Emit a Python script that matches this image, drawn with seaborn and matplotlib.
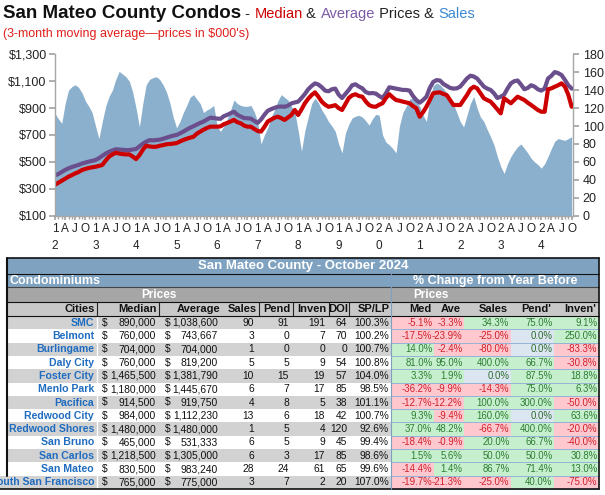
import numpy as np
import pandas as pd
import matplotlib
matplotlib.use('Agg')
import matplotlib.pyplot as plt
import seaborn as sns
from matplotlib.patches import Rectangle

# ---------------- data ----------------
average = [400, 410, 425, 440, 452, 462, 470, 478, 488, 495, 502, 508,
           514, 528, 545, 562, 575, 585, 594, 592, 590, 588, 588, 592,
           596, 615, 635, 650, 662, 660, 663, 665, 672, 680, 688, 695,
           700, 712, 725, 740, 754, 765, 778, 790, 800, 815, 829, 826,
           822, 820, 840, 850, 862, 873, 850, 838, 826, 824, 822, 805,
           790, 815, 850, 880, 892, 902, 910, 912, 910, 918, 935, 942,
           948, 975, 1005, 1040, 1065, 1084, 1075, 1055, 1030, 1025, 1040, 1045,
           1000, 975, 1005, 1035, 1070, 1077, 1060, 1047, 1020, 1010, 1012, 1008,
           990, 975, 1010, 1055, 1050, 1045, 1040, 1035, 1035, 1030, 990, 960,
           940, 960, 985, 1050, 1095, 1108, 1105, 1080, 1065, 1050, 1045, 1047,
           1060, 1090, 1120, 1141, 1135, 1120, 1090, 1060, 1045, 1035, 1010, 975,
           985, 1000, 1045, 1084, 1100, 1105, 1075, 1040, 1050, 1070, 1060, 1040,
           1030, 1045, 1120, 1140, 1168, 1160, 1146, 1110, 1070, 1045]
median = [330, 345, 360, 375, 390, 402, 415, 425, 440, 448, 455, 460,
          464, 470, 477, 510, 539, 555, 568, 562, 558, 556, 556, 540,
          521, 550, 590, 620, 615, 612, 613, 620, 625, 631, 633, 636,
          640, 652, 663, 672, 680, 687, 710, 725, 740, 752, 762, 762,
          762, 764, 780, 790, 800, 812, 795, 787, 770, 762, 762, 745,
          730, 725, 760, 800, 815, 828, 836, 825, 812, 830, 849, 886,
          849, 890, 936, 970, 997, 1017, 985, 948, 925, 910, 915, 922,
          900, 886, 930, 975, 995, 1003, 990, 985, 950, 923, 912, 910,
          925, 936, 975, 1003, 980, 960, 955, 948, 942, 936, 915, 899,
          836, 870, 910, 960, 1010, 1015, 1017, 1005, 997, 960, 923, 923,
          923, 960, 997, 1040, 1059, 1047, 1010, 973, 960, 948, 920, 890,
          861, 973, 955, 936, 960, 985, 972, 960, 940, 923, 905, 886,
          873, 873, 1040, 1047, 1059, 1070, 1084, 1060, 1000, 910]
sales = [114, 108, 103, 125, 140, 144, 146, 143, 137, 128, 122, 115,
         100, 86, 105, 122, 133, 140, 152, 161, 158, 155, 150, 138,
         120, 99, 125, 146, 152, 154, 155, 152, 146, 138, 126, 110,
         98, 105, 115, 123, 132, 135, 130, 125, 115, 118, 120, 123,
         100, 94, 100, 108, 118, 129, 125, 123, 122, 122, 123, 116,
         105, 80, 90, 98, 110, 118, 128, 135, 132, 129, 122, 116,
         95, 72, 95, 110, 125, 131, 126, 118, 112, 105, 100, 94,
         80, 70, 92, 102, 109, 111, 112, 110, 106, 101, 108, 113,
         112, 90, 82, 79, 75, 70, 100, 115, 122, 130, 131, 127,
         122, 112, 105, 130, 145, 148, 146, 142, 137, 130, 124, 115,
         105, 99, 112, 125, 133, 120, 110, 105, 96, 88, 79, 66,
         55, 47, 58, 66, 72, 77, 80, 75, 70, 64, 60, 57,
         53, 58, 66, 75, 83, 86, 85, 84, 86, 88]

price_ticks = [100, 300, 500, 700, 900, 1100, 1300]
price_labels = ['$100', '$300', '$500', '$700', '$900', '$1,100', '$1,300']
sales_ticks = [0, 20, 40, 60, 80, 100, 120, 140, 160, 180]
quarter_letters = ['1', 'A', 'J', 'O']

cities = ['SMC', 'Belmont', 'Burlingame', 'Daly City', 'Foster City', 'Menlo Park',
          'Pacifica', 'Redwood City', 'Redwood Shores', 'San Bruno', 'San Carlos',
          'San Mateo', 'South San Francisco']
median_price = [890000, 760000, 704000, 760000, 1465500, 1180000, 914500, 984000,
                1480000, 465000, 1218500, 830500, 765000]
average_price = [1038600, 743667, 704000, 819200, 1381790, 1445670, 919750, 1112230,
                 1480000, 531333, 1305000, 983240, 775000]
sales_n = [90, 3, 1, 5, 10, 6, 4, 13, 1, 6, 6, 28, 3]
pend_n = [91, 0, 0, 5, 15, 7, 8, 6, 5, 5, 3, 24, 7]
inven_n = [191, 7, 0, 9, 19, 17, 5, 18, 4, 9, 17, 61, 2]
doi_n = [64, 70, 0, 54, 57, 85, 38, 42, 120, 45, 85, 65, 20]
splp = [100.3, 100.2, 100.7, 100.8, 104.0, 98.5, 101.1, 100.7, 92.6, 99.4, 98.6, 99.6, 107.0]
chg_med = [-5.1, -17.5, 14.0, 81.0, 3.3, -36.2, -12.7, 9.3, 37.0, -18.4, 1.5, -14.4, -19.7]
chg_ave = [-3.3, -23.9, -2.4, 95.0, 1.9, -9.9, -12.2, -9.4, 48.2, -0.9, 5.6, 1.4, -21.3]
chg_sales = [34.3, -25.0, -80.0, 400.0, 0.0, -14.3, 100.0, 160.0, -66.7, 20.0, 50.0, 86.7, -25.0]
chg_pend = [75.0, 0.0, 0.0, 66.7, 87.5, 75.0, 300.0, 0.0, 400.0, 66.7, 50.0, 71.4, 40.0]
chg_inven = [9.1, 250.0, -83.3, -30.8, 18.8, 6.3, -50.0, 63.6, -20.0, -40.0, 30.8, 13.0, -75.0]

# ---------------- style ----------------
sns.set_theme(style='white')
plt.rcParams['font.family'] = ['Liberation Sans', 'DejaVu Sans']

W, H = 605, 495
fig = plt.figure(figsize=(W / 100, H / 100), dpi=100)
fig.patch.set_facecolor('white')

def fx(px):
    return px / W

def fy(py):
    return 1 - py / H

# ---------------- chart ----------------
L, R, T, B = 55, 573, 54.3, 215.7
ax = fig.add_axes([fx(L), fy(B), fx(R - L), (B - T) / H])
ax2 = ax.twinx()
ax.set_zorder(3)
ax2.set_zorder(2)
ax.patch.set_visible(False)

n = len(sales)
df = pd.DataFrame({'m': np.arange(n), 'median': median, 'average': average, 'sales': sales})

ax2.fill_between(df['m'], df['sales'], color='#8BB0CD', lw=0)
ax2.set_ylim(0, 180)
sns.lineplot(data=df, x='m', y='average', ax=ax, color='#6A4F8C', lw=3.0)
sns.lineplot(data=df, x='m', y='median', ax=ax, color='#CC0000', lw=3.0)
ax.set_ylim(100, 1300)
ax.set_xlim(0, n - 1 + 0.4)
ax.set_xlabel('')
ax.set_ylabel('')
ax2.set_ylabel('')

ax.set_yticks(price_ticks)
ax.set_yticklabels(price_labels, fontsize=9, color='#222222')
ax2.set_yticks(sales_ticks)
ax2.set_yticklabels([str(v) for v in sales_ticks], fontsize=9, color='#222222')

qpos = list(range(0, n, 3))
qlab = []
for i in qpos:
    q = (i % 12) // 3
    if q == 0:
        yy = 12 + i // 12
        qlab.append(f'{yy // 10}\n{yy % 10}')
    else:
        qlab.append(quarter_letters[q])
ax.set_xticks(qpos)
ax.set_xticklabels(qlab, fontsize=8.5, color='#222222', linespacing=1.55)
ax.set_xticks(range(n), minor=True)

for a in (ax, ax2):
    for s in a.spines.values():
        s.set_visible(False)
ax.spines['left'].set_visible(True)
ax.spines['bottom'].set_visible(True)
ax2.spines['right'].set_visible(True)
for s in (ax.spines['left'], ax.spines['bottom'], ax2.spines['right']):
    s.set_color('#A6A6A6')
    s.set_linewidth(1.0)
ax.tick_params(axis='y', which='major', left=True, length=4, color='#A6A6A6', pad=2)
ax.tick_params(axis='x', which='major', bottom=True, length=3, color='#A6A6A6', pad=2)
ax.tick_params(axis='x', which='minor', bottom=True, length=2, color='#A6A6A6')
ax2.tick_params(axis='y', right=True, length=4, color='#A6A6A6', pad=3)
ax.grid(False)
ax2.grid(False)

# ---------------- title ----------------
fig.canvas.draw()
renderer = fig.canvas.get_renderer()
t = fig.text(fx(3), fy(13), 'San Mateo County Condos', fontsize=13.5, weight='bold',
             color='#111111', va='center', ha='left')
pieces = [(' - ', '#222222'), ('Median', '#CC0000'), (' & ', '#222222'),
          ('Average', '#7B5AA6'), (' Prices & ', '#222222'), ('Sales', '#3C8AD0')]
bb = t.get_window_extent(renderer)
xcur = bb.x1
for txt, col in pieces:
    tt = fig.text(xcur / (fig.dpi * fig.get_figwidth()), fy(14), txt, fontsize=10.5,
                  color=col, va='center', ha='left')
    xcur = tt.get_window_extent(renderer).x1
fig.text(fx(3), fy(34), "(3-month moving average\u2014prices in $000's)", fontsize=9,
         color='#E0201B', va='center', ha='left')

# ---------------- table ----------------
tax = fig.add_axes([0, 0, 1, 1])
tax.set_xlim(0, W)
tax.set_ylim(H, 0)
tax.axis('off')
tax.set_zorder(5)

X0, X1, XS = 7, 599, 391
BLUE = '#7FA2C0'
GRAY = '#A6A6A6'
LGRAY = '#D2D2D2'
HDR = '#C8C8C8'
FS = 7.4
FSP = 6.9

def rect(x0, y0, x1, y1, fc, ec='none', lw=0):
    tax.add_patch(Rectangle((x0, y0), x1 - x0, y1 - y0, facecolor=fc, edgecolor=ec, lw=lw))

def cell_text(x, y, s, **kw):
    kw.setdefault('fontsize', FS)
    kw.setdefault('va', 'center')
    kw.setdefault('color', '#111111')
    tax.text(x, y, s, **kw)

rect(X0, 258, X1, 274, BLUE)
rect(X0, 274, X1, 287, BLUE)
rect(X0, 287, X1, 302, GRAY)
rect(X0, 302, X1, 316, HDR)
tax.text(303, 266, 'San Mateo County - October 2024', color='white', weight='bold',
         fontsize=9.5, ha='center', va='center')
tax.text(10, 281, 'Condominiums', color='white', weight='bold', fontsize=9, ha='left', va='center')
tax.text(495, 281, '% Change from Year Before', color='white', weight='bold', fontsize=9,
         ha='center', va='center')
tax.text(159, 295, 'Prices', color='white', weight='bold', fontsize=8.5, ha='center', va='center')
tax.text(431, 295, 'Prices', color='white', weight='bold', fontsize=8.5, ha='center', va='center')

left_heads = [('Cities', 95), ('Median', 157), ('Average', 220), ('Sales', 257), ('Pend', 291),
              ('Inven', 327), ('DOI', 348), ('SP/LP', 390)]
for h, xr in left_heads:
    tax.text(xr, 309.5, h, weight='bold', fontsize=8, ha='right', va='center', color='#111111')
right_cols = [(392, 434), (434, 464), (464, 511), (511, 554), (554, X1)]
right_heads = ["Med", "Ave", "Sales", "Pend'", "Inven'"]
for h, (a, b) in zip(right_heads, right_cols):
    tax.text(b - 3, 309.5, h, weight='bold', fontsize=8, ha='right', va='center', color='#111111')
for xv in (97, 159, 259, 293, 329, 349):
    tax.plot([xv, xv], [302, 316], color='#222222', lw=0.8)

rh = (489 - 316) / len(cities)
changes = [chg_med, chg_ave, chg_sales, chg_pend, chg_inven]
for i, c in enumerate(cities):
    y0 = 316 + i * rh
    y1 = y0 + rh
    yc = (y0 + y1) / 2
    rect(X0 if i < len(cities) - 1 else 0, y0, XS, y1, LGRAY if i % 2 == 0 else 'white')
    cell_text(94, yc, c, color='#1F6CC0', weight='bold', ha='right', fontsize=7.6)
    cell_text(102, yc, '$', ha='left')
    cell_text(156, yc, f'{median_price[i]:,}', ha='right')
    cell_text(165, yc, '$', ha='left')
    cell_text(218, yc, f'{average_price[i]:,}', ha='right')
    cell_text(254, yc, str(sales_n[i]), ha='right')
    cell_text(289, yc, str(pend_n[i]), ha='right')
    cell_text(325, yc, str(inven_n[i]), ha='right')
    cell_text(347, yc, str(doi_n[i]), ha='right')
    cell_text(389, yc, f'{splp[i]:.1f}%', ha='right')
    tax.plot([97, 97], [y0, y1], color='white', lw=1)
    for (a, b), vals in zip(right_cols, changes):
        v = vals[i]
        if v < 0:
            fc, tc = '#FFC7CE', '#D0202A'
        elif v > 0:
            fc, tc = '#C6EFCE', '#2E7D32'
        else:
            fc, tc = '#DCE6F1', '#2E6B2E'
        rect(a, y0, b, y1, fc)
        cell_text(b - 1.5, yc, f'{v:.1f}%', ha='right', color=tc, fontsize=FSP)
    tax.plot([XS, X1], [y1, y1], color='#95B3D7', lw=0.7)

# borders
tax.plot([X0, X1], [258, 258], color='#111111', lw=1.2)
tax.plot([X0, X1], [274, 274], color='#111111', lw=0.8)
tax.plot([X0, X1], [287, 287], color='#444444', lw=0.8)
tax.plot([X0, X1], [302, 302], color='#111111', lw=0.8)
tax.plot([X0, X1], [316, 316], color='#111111', lw=0.8)
tax.plot([0, X1], [489, 489], color='#111111', lw=1.2)
tax.plot([X0, X0], [258, 316 + 12 * rh], color='#111111', lw=1.5)
tax.plot([X1, X1], [258, 489], color='#111111', lw=1.2)
tax.plot([XS, XS], [274, 489], color='#7F9FC0', lw=0.8)

fig.savefig('out.png', dpi=100)
